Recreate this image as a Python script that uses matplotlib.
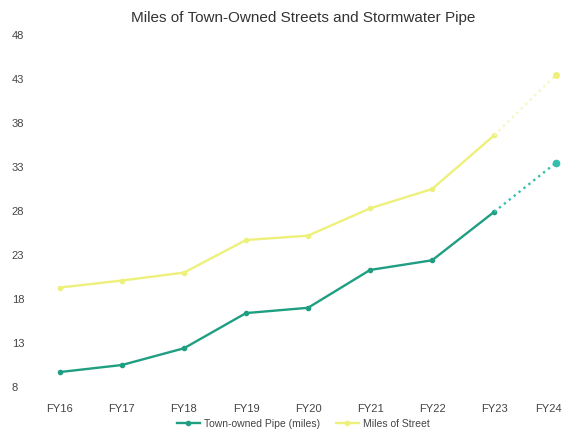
import matplotlib.pyplot as plt
import matplotlib.transforms as mtransforms
from matplotlib.lines import Line2D

plt.rcParams['font.family'] = ['Liberation Sans', 'DejaVu Sans']

years = ['FY16', 'FY17', 'FY18', 'FY19', 'FY20', 'FY21', 'FY22', 'FY23', 'FY24']
pipe = [9.7, 10.5, 12.4, 16.4, 17.0, 21.3, 22.4, 27.9, 33.5]
street = [19.3, 20.1, 21.0, 24.7, 25.2, 28.3, 30.5, 36.6, 43.5]
yticks = [8, 13, 18, 23, 28, 33, 38, 43, 48]

pipe_c = '#1f9e82'
pipe_proj = '#34bfae'
street_c = '#eef07c'
street_proj = '#f6f7c4'

fig = plt.figure(figsize=(5.67, 4.3), dpi=100)
ax = fig.add_axes([45/567, 0.1, 518/567, 0.8186])

x = list(range(len(years)))
# actual values FY16-FY23, projection FY23-FY24 dotted
ax.plot(x[:8], street[:8], color=street_c, lw=1.7, marker='o', ms=3)
ax.plot(x[7:], street[7:], color=street_proj, lw=1.7, ls=':')
ax.plot(x[8], street[8], 'o', color=street_c, ms=4)
ax.plot(x[:8], pipe[:8], color=pipe_c, lw=1.7, marker='o', ms=3)
ax.plot(x[7:], pipe[7:], color=pipe_proj, lw=1.7, ls=':')
ax.plot(x[8], pipe[8], 'o', color=pipe_proj, ms=4.5)

ax.set_xlim(-0.24, 8.11)
ax.set_ylim(8, 48)
ax.set_xticks(x)
ax.set_xticklabels(years)
ax.set_yticks(yticks)
for s in ax.spines.values():
    s.set_visible(False)
ax.tick_params(axis='both', length=0, labelsize=8, labelcolor='#444444')
ax.tick_params(axis='x', pad=12)
for lbl in ax.get_yticklabels():
    lbl.set_horizontalalignment('left')
ax.yaxis.set_tick_params(pad=24)
# keep last x label inside the figure
last = ax.get_xticklabels()[-1]
last.set_transform(last.get_transform() + mtransforms.ScaledTranslation(-8/100, 0, fig.dpi_scale_trans))

fig.text(0.535, 0.957, 'Miles of Town-Owned Streets and Stormwater Pipe',
         ha='center', va='center', fontsize=11, color='#333333')

handles = [Line2D([], [], color=pipe_c, lw=1.7, marker='o', ms=3),
           Line2D([], [], color=street_c, lw=1.7, marker='o', ms=3)]
fig.legend(handles, ['Town-owned Pipe (miles)', 'Miles of Street'],
           loc='center', bbox_to_anchor=(0.535, 0.014), ncol=2, frameon=False,
           fontsize=7.5, handlelength=2.2, columnspacing=1.5, handletextpad=0.4,
           labelcolor='#444444')

fig.savefig('out.png', dpi=100)
